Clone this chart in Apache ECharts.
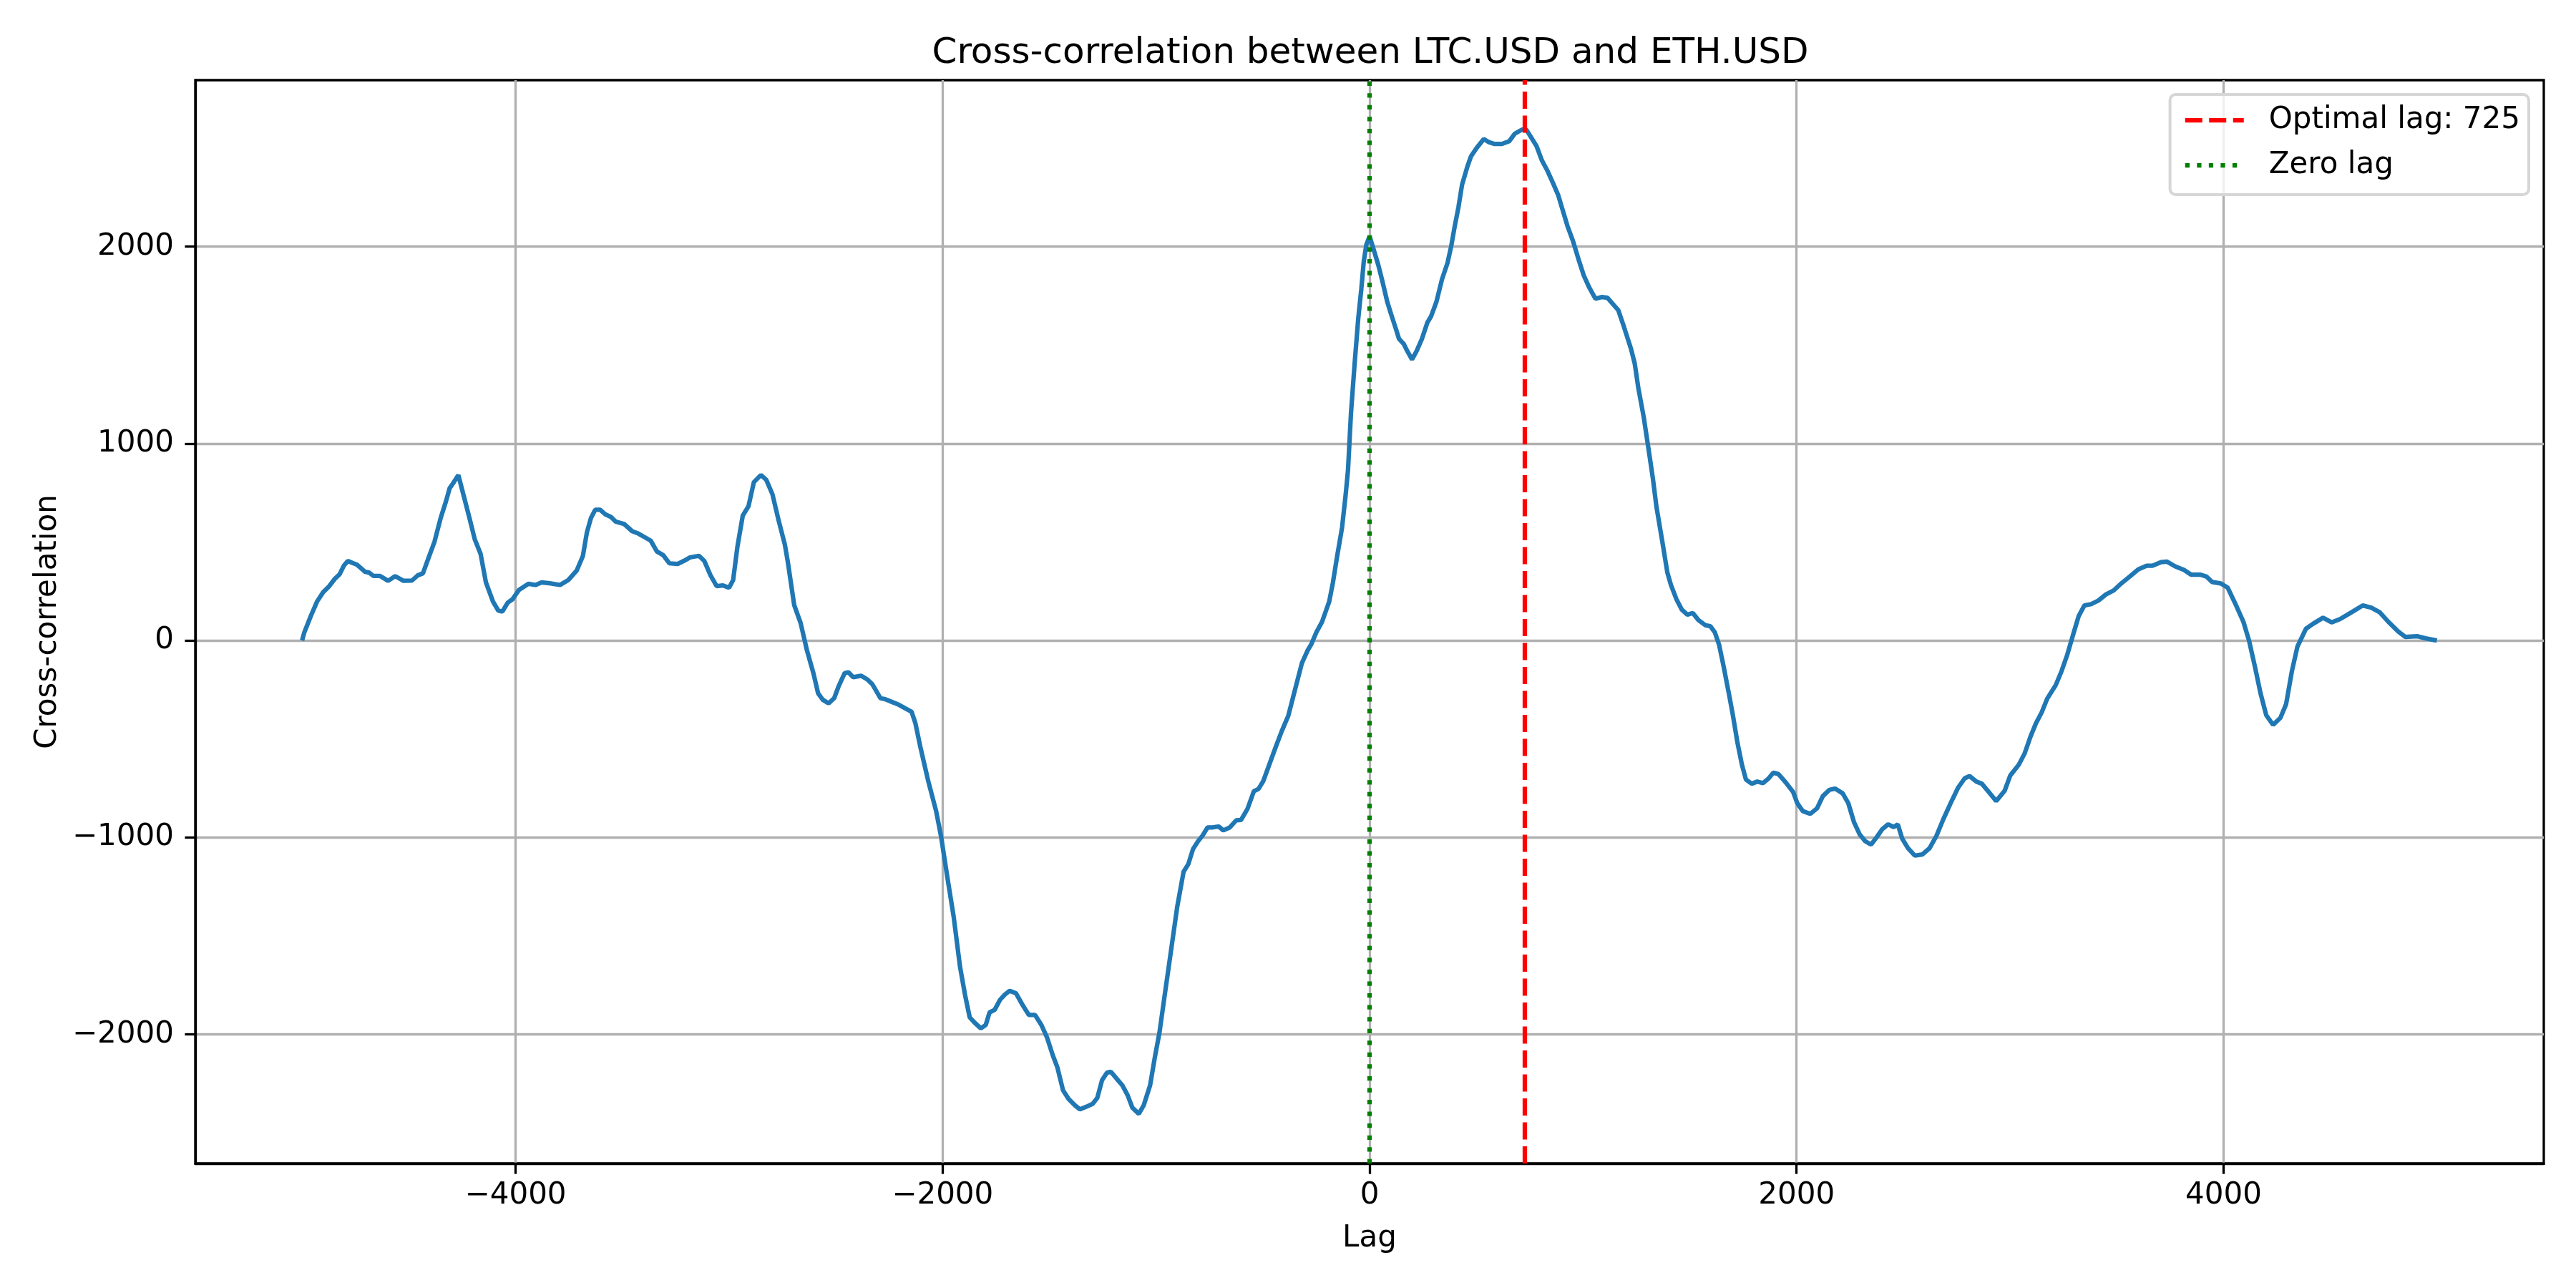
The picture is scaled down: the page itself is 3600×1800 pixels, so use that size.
<!DOCTYPE html>
<html>
<head>
<meta charset="utf-8">
<script src="https://cdn.jsdelivr.net/npm/echarts@6/dist/echarts.min.js"></script>
<style>
html,body{margin:0;padding:0;background:#fff;}
#chart{width:3600px;height:1800px;}
</style>
</head>
<body>
<div id="chart"></div>
<script>
const chartTitle = 'Cross-correlation between LTC.USD and ETH.USD';
const xAxisName = 'Lag';
const yAxisName = 'Cross-correlation';
const optimalLag = 725;
const zeroLag = 0;
const xTicks = [-4000, -2000, 0, 2000, 4000];
const yTicks = [-2000, -1000, 0, 1000, 2000];

const lags = [
-5000,-4990,-4959,-4930,-4901,-4873,-4847,-4824,-4805,-4786,-4765,-4743,-4705,-4686,-4666,-4635,-4597,-4564,-4525,-4486,
-4458,-4434,-4409,-4380,-4351,-4326,-4309,-4293,-4268,-4245,-4216,-4191,-4164,-4139,-4106,-4081,-4062,-4037,-4014,-3985,
-3940,-3907,-3878,-3840,-3792,-3753,-3714,-3685,-3666,-3647,-3627,-3604,-3579,-3554,-3531,-3492,-3454,-3425,-3396,-3367,
-3338,-3309,-3280,-3241,-3212,-3183,-3141,-3116,-3087,-3058,-3029,-3000,-2981,-2961,-2936,-2909,-2884,-2851,-2826,-2797,
-2768,-2739,-2725,-2695,-2665,-2635,-2605,-2583,-2561,-2534,-2508,-2486,-2459,-2441,-2419,-2381,-2351,-2329,-2291,-2269,
-2239,-2209,-2179,-2145,-2127,-2105,-2067,-2030,-2007,-1978,-1948,-1918,-1895,-1873,-1851,-1821,-1798,-1780,-1756,-1731,
-1709,-1686,-1656,-1626,-1596,-1567,-1537,-1511,-1484,-1462,-1436,-1410,-1380,-1357,-1327,-1297,-1275,-1253,-1230,-1212,
-1185,-1158,-1133,-1111,-1081,-1058,-1028,-1006,-984,-961,-931,-901,-871,-849,-827,-804,-782,-759,-737,-707,
-685,-655,-625,-602,-572,-542,-520,-498,-468,-438,-411,-381,-342,-317,-291,-274,-249,-223,-206,-189,
-172,-152,-129,-112,-101,-87,-70,-53,-39,-27,-15,0,15,41,58,83,101,126,138,160,
177,199,220,245,271,288,313,339,365,382,399,416,433,458,475,501,535,557,586,620,
654,680,714,734,756,782,807,833,859,884,901,927,952,978,1003,1029,1058,1089,1114,1140,
1165,1191,1225,1242,1259,1284,1310,1327,1344,1370,1395,1412,1438,1463,1489,1514,1540,1574,1596,1617,
1637,1659,1685,1702,1723,1744,1763,1790,1816,1843,1870,1891,1915,1949,1984,2003,2029,2064,2096,2123,
2154,2181,2216,2242,2269,2296,2322,2349,2375,2402,2429,2455,2474,2495,2522,2554,2589,2623,2655,2687,
2722,2756,2788,2810,2842,2868,2900,2935,2975,3001,3041,3068,3095,3121,3148,3174,3214,3241,3268,3294,
3321,3348,3380,3414,3449,3486,3521,3561,3601,3640,3667,3707,3734,3774,3814,3848,3893,3920,3947,3987,
4019,4053,4093,4120,4146,4173,4200,4232,4266,4293,4320,4346,4386,4418,4466,4506,4546,4599,4652,4692,
4732,4772,4818,4852,4906,4946,4999
];

const xcorr = [
0,40,125,198,246,276,313,337,379,404,394,385,349,345,328,328,303,327,303,304,
331,341,416,501,622,707,773,798,840,743,622,513,440,295,198,152,147,192,210,256,
288,282,295,291,282,307,355,428,549,622,664,664,640,628,604,592,555,543,525,507,
452,434,392,389,404,422,430,404,331,276,280,268,307,476,634,682,804,840,816,743,
610,488,400,180,89,-51,-166,-268,-301,-319,-293,-230,-166,-161,-186,-179,-199,-222,-293,-298,
-311,-324,-342,-362,-421,-536,-714,-867,-995,-1199,-1403,-1658,-1798,-1913,-1939,-1969,-1952,-1888,-1875,-1824,
-1798,-1778,-1791,-1849,-1901,-1901,-1952,-2015,-2105,-2168,-2283,-2327,-2360,-2380,-2367,-2352,-2321,-2232,-2194,-2189,
-2224,-2258,-2309,-2372,-2403,-2360,-2258,-2117,-1990,-1811,-1582,-1352,-1173,-1135,-1059,-1020,-990,-949,-949,-944,
-964,-949,-913,-911,-855,-765,-753,-714,-625,-536,-459,-383,-219,-115,-52,-21,42,94,146,198,
292,427,573,740,865,1156,1406,1635,1781,1927,2010,2052,2000,1906,1833,1719,1656,1573,1531,1506,
1469,1427,1469,1531,1615,1646,1719,1833,1917,2000,2104,2198,2313,2406,2458,2500,2546,2531,2521,2521,
2535,2573,2594,2594,2556,2510,2438,2385,2323,2260,2198,2104,2031,1938,1854,1792,1735,1744,1740,1708,
1677,1594,1479,1406,1281,1135,948,823,677,510,344,281,208,156,131,140,104,77,73,42,
-21,-135,-281,-381,-518,-630,-706,-727,-716,-724,-699,-671,-678,-720,-769,-825,-866,-880,-852,-790,
-758,-752,-776,-825,-922,-985,-1019,-1036,-999,-957,-933,-947,-933,-1006,-1054,-1092,-1086,-1054,-992,-908,
-825,-748,-699,-688,-716,-727,-769,-815,-762,-685,-630,-574,-490,-421,-365,-295,-226,-156,-72,25,
123,178,185,203,234,255,290,325,362,380,380,398,401,376,359,334,334,325,297,290,
269,192,95,-3,-128,-267,-379,-428,-393,-323,-156,-31,60,84,116,92,109,143,178,167,
143,95,46,18,22,11,0
];

const seriesData = lags.map((l, i) => [l, xcorr[i]]);
const fontFamily = '"DejaVu Sans", "Liberation Sans", sans-serif';
const minusFmt = v => String(v).replace('-', '\u2212');

const chart = echarts.init(document.getElementById('chart'), null, {renderer: 'canvas', width: 3600, height: 1800});

const dashedRed = {color: '#ff0000', width: 6.25, type: [24, 9.5]};
const dottedGreen = {color: '#008000', width: 6.25, type: [6.25, 10.3]};

chart.setOption({
  animation: false,
  backgroundColor: '#ffffff',
  textStyle: {fontFamily: fontFamily},
  title: {
    text: chartTitle,
    left: 1910,
    textAlign: 'center',
    top: 45,
    textStyle: {fontFamily: fontFamily, fontSize: 50, fontWeight: 'normal', color: '#000'}
  },
  grid: {
    left: 273, right: 45, top: 112, bottom: 174,
    containLabel: false,
    outerBoundsMode: 'none',
    show: true,
    borderColor: '#000',
    borderWidth: 3.3,
    backgroundColor: 'transparent'
  },
  legend: {
    orient: 'vertical',
    right: 66,
    top: 132,
    padding: [15, 12, 20, 18],
    itemGap: 21,
    itemWidth: 82,
    itemHeight: 14,
    backgroundColor: 'rgba(255,255,255,0.8)',
    borderColor: '#d6d6d6',
    borderWidth: 4,
    borderRadius: 8,
    selectedMode: false,
    textStyle: {fontFamily: fontFamily, fontSize: 42, color: '#000', padding: [0, 0, 0, 30], lineHeight: 42},
    data: [
      {name: 'Optimal lag: ' + optimalLag, lineStyle: dashedRed, itemStyle: {opacity: 0}},
      {name: 'Zero lag', lineStyle: dottedGreen, itemStyle: {opacity: 0}}
    ]
  },
  xAxis: {
    type: 'value',
    min: -5500,
    max: 5500,
    name: xAxisName,
    nameLocation: 'middle',
    nameGap: 84,
    nameTextStyle: {fontFamily: fontFamily, fontSize: 42, color: '#000'},
    axisLine: {show: true, onZero: false, lineStyle: {color: '#000', width: 3.3}},
    axisTick: {show: true, length: 14.6, lineStyle: {color: '#000', width: 3.3}, customValues: xTicks},
    axisLabel: {show: true, margin: 24, fontSize: 42, color: '#000', fontFamily: fontFamily, customValues: xTicks, formatter: minusFmt},
    splitLine: {show: true, lineStyle: {color: '#b0b0b0', width: 3.3}}
  },
  yAxis: {
    type: 'value',
    min: -2655,
    max: 2845,
    name: yAxisName,
    nameLocation: 'middle',
    nameGap: 185,
    nameRotate: 90,
    nameTextStyle: {fontFamily: fontFamily, fontSize: 42, color: '#000'},
    axisLine: {show: true, onZero: false, lineStyle: {color: '#000', width: 3.3}},
    axisTick: {show: true, length: 14.6, lineStyle: {color: '#000', width: 3.3}, customValues: yTicks},
    axisLabel: {show: true, margin: 30, fontSize: 42, color: '#000', fontFamily: fontFamily, customValues: yTicks, formatter: minusFmt},
    splitLine: {show: true, lineStyle: {color: '#b0b0b0', width: 3.3}}
  },
  series: [
    {
      name: 'Cross-correlation',
      type: 'line',
      data: seriesData,
      showSymbol: false,
      symbol: 'none',
      smooth: false,
      lineStyle: {color: '#1f77b4', width: 6.25},
      itemStyle: {color: '#1f77b4'},
      z: 2
    },
    {
      name: 'Optimal lag: ' + optimalLag,
      type: 'line',
      data: [],
      symbol: 'none',
      lineStyle: dashedRed,
      itemStyle: {color: '#ff0000'},
      markLine: {
        silent: true,
        symbol: ['none', 'none'],
        label: {show: false},
        lineStyle: dashedRed,
        data: [{xAxis: optimalLag}]
      }
    },
    {
      name: 'Zero lag',
      type: 'line',
      data: [],
      symbol: 'none',
      lineStyle: dottedGreen,
      itemStyle: {color: '#008000'},
      markLine: {
        silent: true,
        symbol: ['none', 'none'],
        label: {show: false},
        lineStyle: dottedGreen,
        data: [{xAxis: zeroLag}]
      }
    }
  ]
});
</script>
</body>
</html>
